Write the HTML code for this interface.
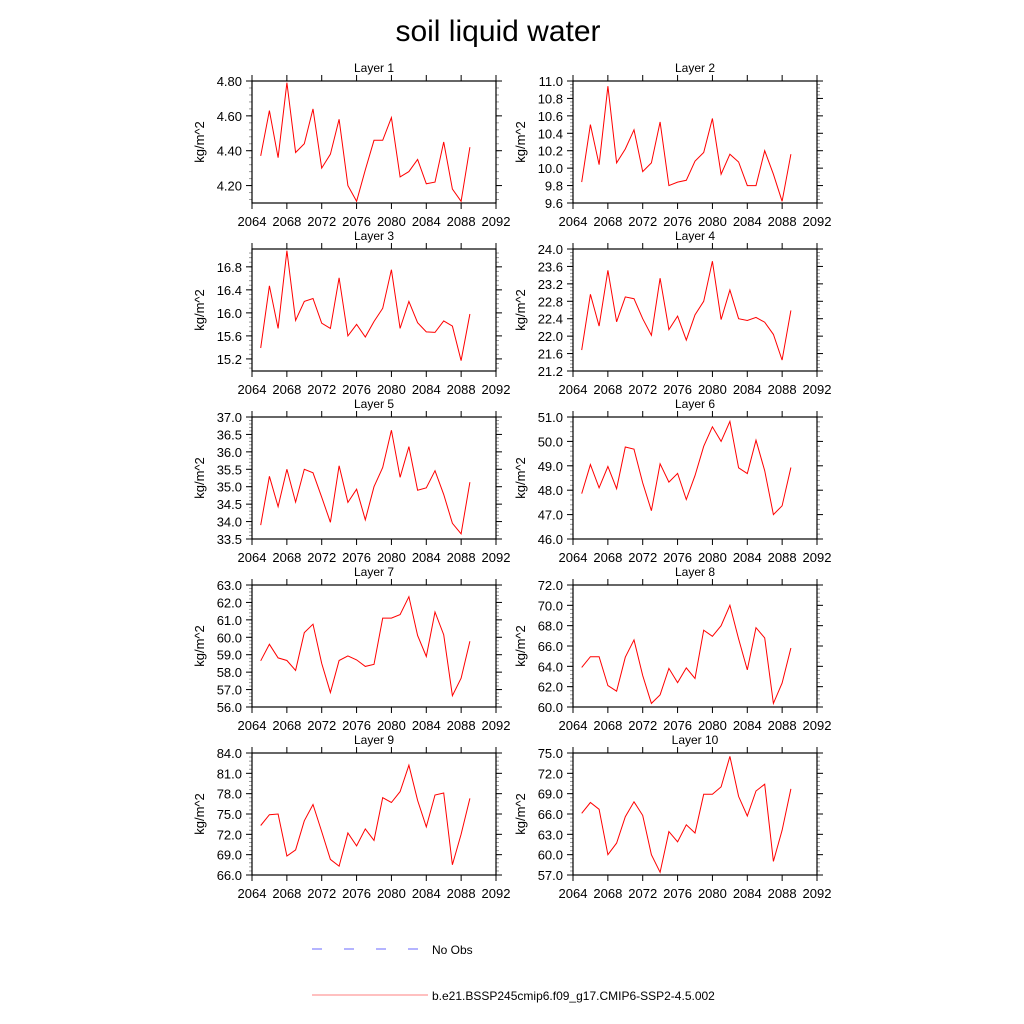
<!DOCTYPE html>
<html><head><meta charset="utf-8"><style>
body{margin:0;background:#fff;width:1024px;height:1024px;overflow:hidden}
svg{display:block;font-family:"Liberation Sans",sans-serif}
</style></head><body>
<svg id="chart" width="1024" height="1024" viewBox="0 0 1024 1024">
<rect width="1024" height="1024" fill="#fff"/>
<text x="498" y="41" font-size="30" text-anchor="middle">soil liquid water</text>
<g id="panels"></g>
<g>
<line x1="312" y1="949" x2="420" y2="949" stroke="#6a6aff" stroke-width="1" stroke-dasharray="10,22"/>
<text x="432" y="954" font-size="12">No Obs</text>
<line x1="312" y1="995" x2="428" y2="995" stroke="#ff8080" stroke-width="1"/>
<text x="432" y="1000" font-size="12">b.e21.BSSP245cmip6.f09_g17.CMIP6-SSP2-4.5.002</text>
</g>
</svg>
<script>
const years = [2065,2066,2067,2068,2069,2070,2071,2072,2073,2074,2075,2076,2077,2078,2079,2080,2081,2082,2083,2084,2085,2086,2087,2088,2089];
const xTicks = [2064,2068,2072,2076,2080,2084,2088,2092];
const layer1 = [4.37,4.63,4.36,4.79,4.39,4.44,4.64,4.30,4.38,4.58,4.20,4.11,4.29,4.46,4.46,4.59,4.25,4.28,4.35,4.21,4.22,4.45,4.18,4.11,4.42];
const layer2 = [9.84,10.50,10.04,10.94,10.06,10.22,10.44,9.96,10.06,10.53,9.80,9.84,9.86,10.08,10.18,10.57,9.93,10.16,10.07,9.80,9.80,10.20,9.93,9.62,10.16];
const layer3 = [15.39,16.47,15.73,17.08,15.87,16.20,16.25,15.82,15.73,16.61,15.60,15.80,15.58,15.85,16.08,16.75,15.73,16.20,15.83,15.67,15.66,15.86,15.77,15.17,15.98];
const layer4 = [21.68,22.96,22.23,23.51,22.33,22.90,22.86,22.40,22.02,23.33,22.15,22.46,21.91,22.49,22.80,23.72,22.38,23.06,22.40,22.36,22.43,22.32,22.04,21.45,22.59];
const layer5 = [33.9,35.3,34.43,35.5,34.56,35.5,35.4,34.7,33.98,35.6,34.55,34.93,34.05,35.0,35.55,36.62,35.27,36.15,34.9,34.97,35.46,34.78,33.95,33.65,35.13];
const layer6 = [47.86,49.05,48.10,48.97,48.06,49.77,49.68,48.3,47.16,49.08,48.33,48.69,47.62,48.6,49.8,50.6,50.0,50.82,48.92,48.68,50.05,48.8,47.0,47.36,48.93];
const layer7 = [58.65,59.6,58.82,58.67,58.1,60.27,60.75,58.5,56.83,58.67,58.93,58.7,58.33,58.45,61.1,61.1,61.3,62.33,60.1,58.9,61.45,60.15,56.65,57.65,59.77];
const layer8 = [63.9,64.95,64.95,62.1,61.55,64.9,66.6,63.1,60.35,61.2,63.8,62.4,63.85,62.8,67.55,66.95,68.0,70.0,66.7,63.65,67.8,66.8,60.35,62.35,65.8];
const layer9 = [73.3,74.9,75.0,68.8,69.7,74.0,76.4,72.4,68.3,67.3,72.2,70.3,72.8,71.1,77.4,76.7,78.3,82.2,77.0,73.1,77.8,78.1,67.5,72.0,77.3];
const layer10 = [66.1,67.7,66.7,60.0,61.7,65.6,67.8,65.8,60.0,57.4,63.4,61.9,64.4,63.2,68.9,68.9,70.0,74.5,68.6,65.7,69.4,70.4,59.0,63.6,69.7];
const yMin = [4.1,9.6,14.99,21.2,33.5,46,56,60,66,57];
const yMax = [4.8,11.0,17.11,24.0,37.0,51,63,72,84,75];
const yTickStart = [4.2,9.6,15.2,21.2,33.5,46,56,60,66,57];
const yTickStep = [0.2,0.2,0.4,0.4,0.5,1,1,2,3,3];
const yDecimals = [2,1,1,1,1,1,1,1,1,1];
const series = [layer1,layer2,layer3,layer4,layer5,layer6,layer7,layer8,layer9,layer10];

const NS='http://www.w3.org/2000/svg';
const root=document.getElementById('panels');
function mk(tag,attrs,parent){const e=document.createElementNS(NS,tag);for(const k in attrs)e.setAttribute(k,attrs[k]);parent.appendChild(e);return e;}
const W=244,H=122;
for(let i=0;i<10;i++){
  const col=i%2,row=Math.floor(i/2);
  const x0=col?573:252, y0=81+row*168;
  const g=mk('g',{},root);
  
  
  const xs=v=>x0+(v-2064)/28*W;
  const ys=v=>y0+H-(v-yMin[i])/(yMax[i]-yMin[i])*H;
  const t=mk('text',{x:x0+W/2,y:y0-9,'font-size':12,'text-anchor':'middle'},g);
  t.textContent='Layer '+(i+1);
  
  
  const yl=mk('text',{x:0,y:0,'font-size':13,'text-anchor':'middle',transform:`translate(${x0-48},${y0+H/2}) rotate(-90)`},g);
  yl.textContent='kg/m^2';
  
  
  xTicks.forEach(v=>{
    const px=xs(v);
    mk('line',{x1:px,y1:y0,x2:px,y2:y0-6,stroke:'#000','stroke-width':1},g);
    mk('line',{x1:px,y1:y0+H,x2:px,y2:y0+H+6,stroke:'#000','stroke-width':1},g);
    const tl=mk('text',{x:px,y:y0+H+23,'font-size':13,'text-anchor':'middle'},g);
    tl.textContent=v;
    
    
  });
  const minor=yTickStep[i]/5;
  for(let v=yTickStart[i]-Math.floor((yTickStart[i]-yMin[i])/minor+1e-6)*minor; v<=yMax[i]+1e-6; v+=minor){
    const py=ys(v);
    if(py<y0-0.5||py>y0+H+0.5)continue;
    mk('line',{x1:x0,y1:py,x2:x0-3,y2:py,stroke:'#999','stroke-width':1},g);
    mk('line',{x1:x0+W,y1:py,x2:x0+W+3,y2:py,stroke:'#999','stroke-width':1},g);
  }
  for(let v=yTickStart[i]; v<=yMax[i]+1e-6; v+=yTickStep[i]){
    const py=ys(v);
    mk('line',{x1:x0,y1:py,x2:x0-6,y2:py,stroke:'#000','stroke-width':1},g);
    mk('line',{x1:x0+W,y1:py,x2:x0+W+6,y2:py,stroke:'#000','stroke-width':1},g);
    const tl=mk('text',{x:x0-10,y:py+5,'font-size':13,'text-anchor':'end'},g);
    tl.textContent=v.toFixed(yDecimals[i]);
    
    
  }
  const fr=mk('rect',{x:x0,y:y0,width:W,height:H,fill:'none',stroke:'#000','stroke-width':1.2},g);
  
  
  const pts=series[i].map((v,j)=>xs(years[j]).toFixed(1)+','+ys(v).toFixed(1)).join(' ');
  const pl=mk('polyline',{points:pts,fill:'none',stroke:'#ff0000','stroke-width':1},g);
  
  
}
</script>
</body></html>
